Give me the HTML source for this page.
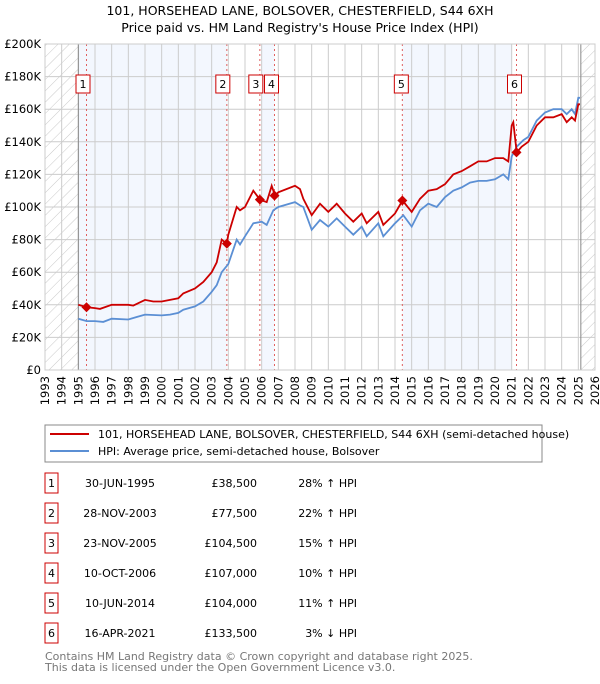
<!DOCTYPE html>
<html><head><meta charset="utf-8"><style>
body{margin:0;background:#fff;font-family:"DejaVu Sans","Liberation Sans",sans-serif;}
svg text{font-family:"DejaVu Sans","Liberation Sans",sans-serif;}
</style></head><body>
<svg id="c" width="600" height="680" viewBox="0 0 600 680" xmlns="http://www.w3.org/2000/svg">
<defs><pattern id="hatch" width="8" height="8" patternUnits="userSpaceOnUse" patternTransform="rotate(45)"><line x1="0" y1="0" x2="0" y2="8" stroke="#bbb" stroke-width="0.8"/></pattern></defs>
<text x="300" y="15" text-anchor="middle" font-size="12.5" fill="#000">101, HORSEHEAD LANE, BOLSOVER, CHESTERFIELD, S44 6XH</text>
<text x="300" y="32" text-anchor="middle" font-size="12.5" fill="#000">Price paid vs. HM Land Registry's House Price Index (HPI)</text>
<g id="plot"></g>
<g>
<rect x="45" y="425" width="497" height="37" fill="#fff" stroke="#888"/>
<line x1="50" y1="434" x2="89" y2="434" stroke="#cc0000" stroke-width="2"/>
<text x="98" y="438" font-size="11">101, HORSEHEAD LANE, BOLSOVER, CHESTERFIELD, S44 6XH (semi-detached house)</text>
<line x1="50" y1="451" x2="89" y2="451" stroke="#5b8fd4" stroke-width="2"/>
<text x="98" y="455" font-size="11">HPI: Average price, semi-detached house, Bolsover</text>
</g>
<g id="table"></g>
<text x="45" y="660" font-size="11" fill="#777">Contains HM Land Registry data © Crown copyright and database right 2025.</text>
<text x="45" y="671" font-size="11" fill="#777">This data is licensed under the Open Government Licence v3.0.</text>
</svg>
<script>
const hpiYears=[1995,1995.5,1996,1996.5,1997,1998,1998.5,1999,2000,2000.5,2001,2001.3,2002,2002.5,2003,2003.3,2003.6,2004,2004.5,2004.7,2005,2005.5,2006,2006.3,2006.7,2007,2008,2008.3,2008.5,2009,2009.5,2010,2010.5,2011,2011.5,2012,2012.3,2013,2013.3,2014,2014.5,2015,2015.5,2016,2016.5,2017,2017.5,2018,2018.5,2019,2019.5,2020,2020.5,2020.8,2021,2021.3,2021.7,2022,2022.5,2023,2023.5,2024,2024.3,2024.6,2024.8,2025,2025.1];
const hpiValues=[31.5,30,30,29.5,31.5,31,32.5,34,33.5,34,35,37,39,42,48,52,60,65,80,77,82,90,91,89,98,100,103,101,100,86,92,88,93,88,83,88,82,90,82,90,95,88,98,102,100,106,110,112,115,116,116,117,120,117,131,137,141,143,153,158,160,160,157,160,157,167,167];
const priceYears=[1995,1995.5,1996,1996.3,1997,1998,1998.3,1999,1999.5,2000,2000.5,2001,2001.3,2002,2002.5,2003,2003.3,2003.6,2003.9,2004,2004.5,2004.7,2005,2005.5,2005.9,2006.3,2006.6,2006.8,2007,2008,2008.3,2008.5,2009,2009.5,2010,2010.5,2011,2011.5,2012,2012.3,2013,2013.3,2014,2014.45,2015,2015.5,2016,2016.5,2017,2017.5,2018,2018.5,2019,2019.5,2020,2020.5,2020.8,2021,2021.1,2021.3,2021.6,2022,2022.5,2023,2023.5,2024,2024.3,2024.6,2024.8,2025,2025.1];
const priceValues=[40,38.5,38,37.5,40,40,39.5,43,42,42,43,44,47,50,54,60,66,80,77.5,83,100,98,100,110,104.5,103,113,107,109,113,111,105,95,102,97,102,96,91,96,90,97,89,96,104,97,105,110,111,114,120,122,125,128,128,130,130,128,150,152,133.5,137,140,150,155,155,157,152,155,153,163,163];
const saleLabels=["1","2","3","4","5","6"];
const saleYears=[1995.49,2003.91,2005.89,2006.77,2014.44,2021.29];
const saleValues=[38.5,77.5,104.5,107,104,133.5];
const saleDates=["30-JUN-1995","28-NOV-2003","23-NOV-2005","10-OCT-2006","10-JUN-2014","16-APR-2021"];
const salePrices=["£38,500","£77,500","£104,500","£107,000","£104,000","£133,500"];
const saleHpi=["28% ↑ HPI","22% ↑ HPI","15% ↑ HPI","10% ↑ HPI","11% ↑ HPI","3% ↓ HPI"];
const yTicks=[0,20,40,60,80,100,120,140,160,180,200];
const yTickLabels=["£0","£20K","£40K","£60K","£80K","£100K","£120K","£140K","£160K","£180K","£200K"];
const xTicks=[1993,1994,1995,1996,1997,1998,1999,2000,2001,2002,2003,2004,2005,2006,2007,2008,2009,2010,2011,2012,2013,2014,2015,2016,2017,2018,2019,2020,2021,2022,2023,2024,2025,2026];

const L=45,R=595,T=44,B=370;
const X=y=>L+(y-1993)/(2026-1993)*(R-L);
const Y=v=>B-v/200*(B-T);
const NS="http://www.w3.org/2000/svg";
const g=document.getElementById('plot');
function mk(p,tag,a){const e=document.createElementNS(NS,tag);for(const k in a)e.setAttribute(k,a[k]);p.appendChild(e);return e;}
const bands=[[1995,saleYears[1]],[2006,saleYears[3]],[saleYears[4],2021.0]];
bands.forEach(b=>{const r=mk(g,'rect',{x:X(b[0]),y:T,width:X(b[1])-X(b[0]),height:B-T,fill:'#eef3fd',opacity:0.7});

});
let h1=mk(g,'rect',{x:L,y:T,width:X(1995)-L,height:B-T,fill:'url(#hatch)'});


let h2=mk(g,'rect',{x:X(2025.15),y:T,width:R-X(2025.15),height:B-T,fill:'url(#hatch)'});


xTicks.forEach((t,i)=>{const ln=mk(g,'line',{x1:X(t),x2:X(t),y1:T,y2:B,stroke:'#ccc','stroke-width':1});


const tx=mk(g,'text',{x:0,y:0,'font-size':11.5,'text-anchor':'end',transform:`translate(${X(t)+4},${B+6}) rotate(-90)`});
tx.textContent=t;

});
yTicks.forEach((t,i)=>{const ln=mk(g,'line',{x1:L,x2:R,y1:Y(t),y2:Y(t),stroke:'#ccc','stroke-width':1});


const tx=mk(g,'text',{x:L-4,y:Y(t)+4,'font-size':11.5,'text-anchor':'end'});
tx.textContent=yTickLabels[i];

});
mk(g,'line',{x1:X(1995),x2:X(1995),y1:T,y2:B,stroke:'#888'});
mk(g,'line',{x1:X(2025.15),x2:X(2025.15),y1:T,y2:B,stroke:'#888'});
saleYears.forEach((s,i)=>{const ln=mk(g,'line',{x1:X(s),x2:X(s),y1:T,y2:B,stroke:'#e06060','stroke-width':1,'stroke-dasharray':'2,3'});

});
function path(xs,vs){return xs.map((x,i)=>(i?'L':'M')+X(x).toFixed(1)+','+Y(vs[i]).toFixed(1)).join('');}
const hp=mk(g,'path',{d:path(hpiYears,hpiValues),fill:'none',stroke:'#5b8fd4','stroke-width':1.8});


const pp=mk(g,'path',{d:path(priceYears,priceValues),fill:'none',stroke:'#cc0000','stroke-width':1.8});


const offs=[-3.5,-4,-4,-3,-1,-2];
saleYears.forEach((s,i)=>{const cx=X(s),cy=Y(saleValues[i]);
const d=mk(g,'path',{d:`M${cx},${cy-5}L${cx+5},${cy}L${cx},${cy+5}L${cx-5},${cy}Z`,fill:'#cc0000'});


const bc=cx+offs[i];
const bx=mk(g,'rect',{x:bc-7,y:75,width:14,height:18,fill:'#fff',stroke:'#cc0000'});


const tx=mk(g,'text',{x:bc,y:88,'font-size':11,'text-anchor':'middle'});
tx.textContent=saleLabels[i];

});
mk(g,'rect',{x:L,y:T,width:R-L,height:B-T,fill:'none',stroke:'#ccc'});
const tb=document.getElementById('table');
saleLabels.forEach((lab,i)=>{const cy=483+i*30;
const r=mk(tb,'rect',{x:45,y:cy-10,width:13,height:20,fill:'#fff',stroke:'#cc0000'});


const cells=[[51.5,'middle',lab],[120,'middle',saleDates[i]],[257,'end',salePrices[i]],[357,'end',saleHpi[i]]];
cells.forEach(c=>{const t=mk(tb,'text',{x:c[0],y:cy+4,'font-size':11,'text-anchor':c[1]});t.textContent=c[2];

});});
</script>
</body></html>
